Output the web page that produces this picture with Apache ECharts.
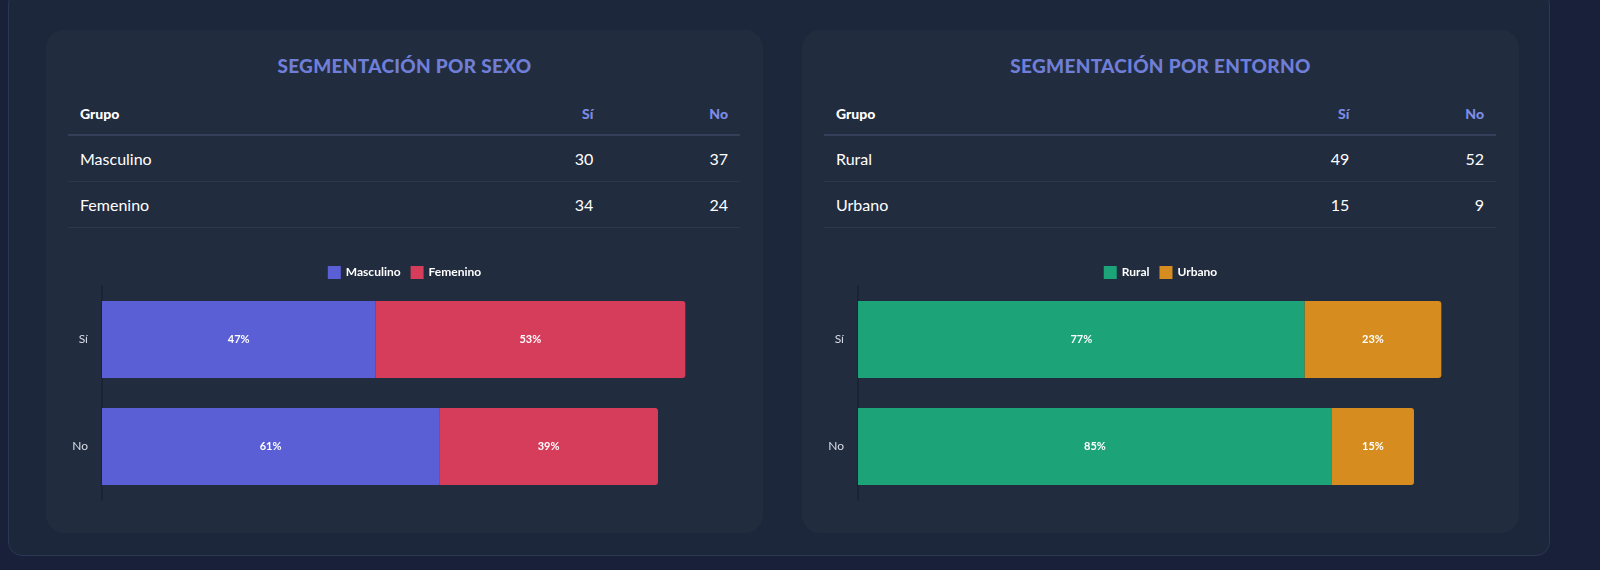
<!DOCTYPE html>
<html><head><meta charset="utf-8">
<script src="https://cdn.jsdelivr.net/npm/echarts@6/dist/echarts.min.js"></script>
<style>
html,body{margin:0;padding:0;width:1600px;height:570px;overflow:hidden}
body{background:#18203a;font-family:Lato,"Noto Sans",sans-serif;position:relative}
.outer{position:absolute;left:8px;top:-10px;width:1540px;height:564px;background:#1d273b;border:1px solid #2c3752;border-radius:14px}
.panel{position:absolute;top:30px;width:717px;height:503px;background:#222c3f;border-radius:18px}
.title{position:absolute;top:24px;left:0;width:100%;text-align:center;color:#6f7fd8;font-weight:900;font-size:19px;letter-spacing:0.3px}
table{position:absolute;left:22px;top:62px;width:672px;border-collapse:collapse;color:#fff}
th{font-size:14px;font-weight:900;height:42px;text-align:right;padding:0 12px;border-bottom:2px solid #34405a}
th.g{text-align:left;color:#fff}th.c{color:#7d8ce6}
td{font-size:16px;height:45px;text-align:right;padding:0 12px;border-bottom:1px solid #2c374c}
td.g{text-align:left}
.chart{position:absolute;left:0;top:220px;width:717px;height:283px}
</style></head><body>
<div class="outer"></div>
<div class="panel" style="left:46px"><div class="title">SEGMENTACIÓN POR SEXO</div><table id="t1"></table><div class="chart" id="c1"></div></div>
<div class="panel" style="left:802px"><div class="title">SEGMENTACIÓN POR ENTORNO</div><table id="t2"></table><div class="chart" id="c2"></div></div>
<script>
const answers=["Sí","No"];
const sexGroups=["Masculino","Femenino"];
const sexValues=[[30,37],[34,24]];
const sexColors=["#5a5fd6","#d63d5a"];
const envGroups=["Rural","Urbano"];
const envValues=[[49,52],[15,9]];
const envColors=["#1ca378","#d68c1f"];

function table(id,groups,vals){
  let h='<tr><th class="g" style="width:60%">Grupo</th><th class="c">'+answers[0]+'</th><th class="c">'+answers[1]+'</th></tr>';
  groups.forEach((g,i)=>{h+='<tr><td class="g">'+g+'</td><td>'+vals[i][0]+'</td><td>'+vals[i][1]+'</td></tr>';});
  document.getElementById(id).innerHTML=h;
}
function chart(id,groups,vals,colors){
  const c=echarts.init(document.getElementById(id));
  const totals=answers.map((a,j)=>vals.reduce((s,v)=>s+v[j],0));
  c.setOption({
    textStyle:{fontFamily:'Lato'},
    legend:{top:11,itemWidth:13,itemHeight:13,itemGap:10,icon:'rect',textStyle:{color:'#fff',fontWeight:'bold',fontSize:12}},
    grid:{left:56,width:638,top:36,height:214},
    xAxis:{type:'value',min:0,max:70,show:false},
    yAxis:{type:'category',inverse:true,data:answers,axisTick:{show:false},axisLine:{lineStyle:{color:'#1c2433',width:2}},axisLabel:{color:'#d8dce6',fontSize:12,margin:14}},
    series:groups.map((g,i)=>({name:g,type:'bar',stack:'s',barWidth:77,data:vals[i],
      itemStyle:{color:colors[i],borderRadius:i===groups.length-1?[0,3,3,0]:0},
      label:{show:true,color:'#fff',fontWeight:'bold',fontSize:11,formatter:p=>Math.round(p.value/totals[p.dataIndex]*100)+'%'}}))
  });
}
table('t1',sexGroups,sexValues);table('t2',envGroups,envValues);
chart('c1',sexGroups,sexValues,sexColors);chart('c2',envGroups,envValues,envColors);
</script></body></html>
